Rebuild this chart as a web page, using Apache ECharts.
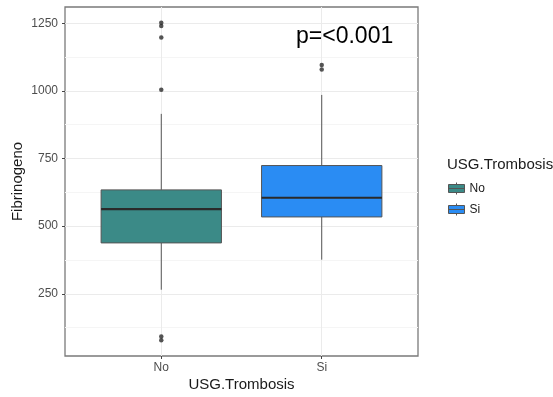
<!DOCTYPE html>
<html>
<head>
<meta charset="utf-8">
<script src="https://cdn.jsdelivr.net/npm/echarts@6/dist/echarts.min.js"></script>
<style>
html,body{margin:0;padding:0;background:#fff;}
#chart{width:553px;height:397px;}
</style>
</head>
<body>
<div id="chart"></div>
<script>
// ---- data ----
const categories = ['No', 'Si'];
// [min whisker, Q1, median, Q3, max whisker]
const statsNo = [265, 438, 563, 634, 915];
const statsSi = [376, 534, 605, 724, 985];
const outliersNo = [1252, 1240, 1197, 1004, 92, 78];
const outliersSi = [1096, 1079];
const yTicks = [250, 500, 750, 1000, 1250];
const yMinorTicks = [125, 375, 625, 875, 1125];
const pLabel = 'p=<0.001';

const fillColors = ['#3b8a87', '#2a8cf3'];
const FONT = 'Liberation Sans, Arial, sans-serif';

function renderBox(params, api) {
  const x = api.value(0);
  const lo = api.coord([x, api.value(1)]);
  const q1 = api.coord([x, api.value(2)]);
  const med = api.coord([x, api.value(3)]);
  const q3 = api.coord([x, api.value(4)]);
  const hi = api.coord([x, api.value(5)]);
  const halfW = api.size([0.75, 0])[0] / 2;
  const fill = api.visual('color');
  return {
    type: 'group',
    children: [
      { type: 'line', shape: { x1: q3[0], y1: q3[1], x2: hi[0], y2: hi[1] },
        style: { stroke: '#555', lineWidth: 1 } },
      { type: 'line', shape: { x1: q1[0], y1: q1[1], x2: lo[0], y2: lo[1] },
        style: { stroke: '#555', lineWidth: 1 } },
      { type: 'rect', shape: { x: q3[0] - halfW, y: q3[1], width: halfW * 2, height: q1[1] - q3[1] },
        style: { fill: fill, stroke: '#555', lineWidth: 1 } },
      { type: 'line', shape: { x1: med[0] - halfW, y1: med[1], x2: med[0] + halfW, y2: med[1] },
        style: { stroke: '#2a2a2a', lineWidth: 2.2 } }
    ]
  };
}

const boxIcon = 'path://M8,0 L8,2 M0,2 L16,2 L16,10 L0,10 Z M0,6 L16,6 M8,10 L8,12';

const chart = echarts.init(document.getElementById('chart'), null, { renderer: 'canvas' });
chart.setOption({
  backgroundColor: '#ffffff',
  animation: false,
  textStyle: { fontFamily: FONT },
  title: [
    { text: pLabel, left: 291, top: 20,
      textStyle: { fontSize: 23, fontWeight: 'normal', color: '#000', fontFamily: FONT } },
    { text: 'USG.Trombosis', left: 442, top: 152,
      textStyle: { fontSize: 15, fontWeight: 'normal', color: '#1a1a1a', fontFamily: FONT } }
  ],
  legend: {
    orient: 'vertical',
    left: 443, top: 177,
    itemWidth: 16, itemHeight: 12, itemGap: 8,
    data: categories.map(c => ({ name: c, icon: boxIcon })),
    itemStyle: { borderColor: '#555', borderWidth: 1 },
    textStyle: { fontSize: 12, color: '#1a1a1a', fontFamily: FONT }
  },
  grid: {
    left: 65, top: 7, width: 353, height: 349,
    outerBoundsMode: 'none', containLabel: false,
    show: true, borderColor: '#7a7a7a', borderWidth: 1.3, backgroundColor: 'transparent'
  },
  xAxis: {
    type: 'value', min: 0.4, max: 2.6,
    name: 'USG.Trombosis', nameLocation: 'middle', nameGap: 21, nameMoveOverlap: false,
    nameTextStyle: { fontSize: 15, color: '#1a1a1a', fontFamily: FONT },
    axisLine: { show: false },
    axisTick: { show: true, length: 3, customValues: [1, 2], lineStyle: { color: '#444' } },
    axisLabel: { customValues: [1, 2], margin: 6, fontSize: 12, color: '#4d4d4d',
      formatter: v => categories[Math.round(v) - 1] || '' },
    splitLine: { show: true, lineStyle: { color: '#ebebeb', width: 1 } }
  },
  yAxis: [
    {
      type: 'value', min: 20, max: 1310,
      name: 'Fibrinogeno', nameLocation: 'middle', nameGap: 40, nameRotate: 90, nameMoveOverlap: false,
      nameTextStyle: { fontSize: 15, color: '#1a1a1a', fontFamily: FONT },
      axisLine: { show: false },
      axisTick: { show: true, length: 3, customValues: yTicks, lineStyle: { color: '#444' } },
      axisLabel: { customValues: yTicks, margin: 7, fontSize: 12, color: '#4d4d4d',
        formatter: v => String(v) },
      splitLine: { show: true, lineStyle: { color: '#ebebeb', width: 1 } }
    },
    {
      type: 'value', min: 20, max: 1310, position: 'left',
      axisLine: { show: false },
      axisTick: { show: false, customValues: yMinorTicks },
      axisLabel: { show: false, customValues: yMinorTicks },
      splitLine: { show: true, lineStyle: { color: '#f5f5f5', width: 1 } }
    }
  ],
  series: [
    {
      name: 'No', type: 'custom', renderItem: renderBox,
      itemStyle: { color: fillColors[0] },
      encode: { x: 0, y: [1, 2, 3, 4, 5] },
      data: [[1].concat(statsNo)], z: 3
    },
    {
      name: 'Si', type: 'custom', renderItem: renderBox,
      itemStyle: { color: fillColors[1] },
      encode: { x: 0, y: [1, 2, 3, 4, 5] },
      data: [[2].concat(statsSi)], z: 3
    },
    {
      name: 'out', type: 'scatter', symbolSize: 4.5,
      itemStyle: { color: '#2b2b2b' },
      data: outliersNo.map(v => [1, v]).concat(outliersSi.map(v => [2, v])), z: 4
    }
  ]
});
</script>
</body>
</html>
